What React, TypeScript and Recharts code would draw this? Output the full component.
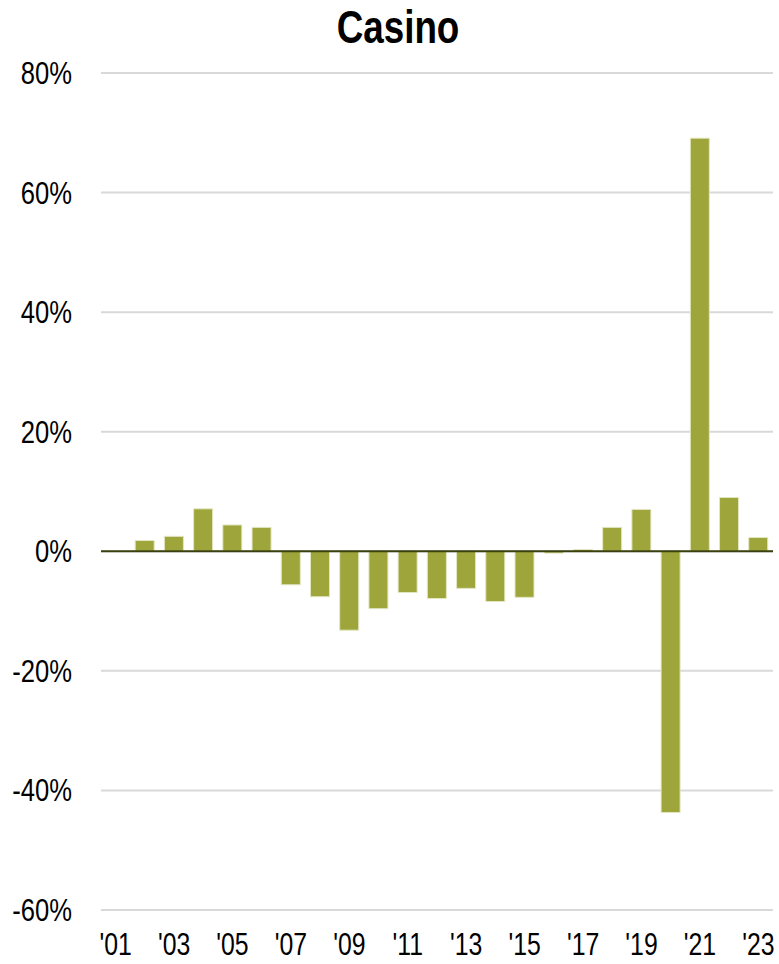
import { BarChart, Bar, XAxis, YAxis, CartesianGrid, ReferenceLine } from 'recharts'

// year-over-year change, %
const years = [
  "'01", "'02", "'03", "'04", "'05", "'06", "'07", "'08", "'09", "'10", "'11", "'12",
  "'13", "'14", "'15", "'16", "'17", "'18", "'19", "'20", "'21", "'22", "'23",
]
const change = [
  0, 1.8, 2.5, 7.1, 4.4, 4.0, -5.6, -7.6, -13.2, -9.6, -6.9, -7.9,
  -6.2, -8.4, -7.7, -0.3, 0.3, 4.0, 7.0, -43.7, 69.1, 9.0, 2.3,
]
const yTicks = [-60, -40, -20, 0, 20, 40, 60, 80]

const data = years.map((year, i) => ({ year, change: change[i] }))

// no Arial Narrow here, so squeeze Liberation Sans horizontally
const font = '"Liberation Sans", Arial, sans-serif'
const squeeze = 0.8

function NarrowTick(props: any) {
  const { x, y, payload, textAnchor, fontSize, dy, formatter } = props
  const label = formatter ? formatter(payload.value) : payload.value
  return (
    <text
      transform={`translate(${x},${y}) scale(${squeeze},1)`}
      textAnchor={textAnchor}
      fontSize={fontSize}
      fontFamily={font}
      fill="#000"
      dy={dy}
    >
      {label}
    </text>
  )
}

export default function App() {
  return (
    <div style={{ position: 'absolute', left: 0, top: 0, width: 779, height: 964, background: '#fff', fontFamily: font }}>
      <div
        style={{
          position: 'absolute',
          left: 0,
          top: 1,
          width: 796,
          textAlign: 'center',
          fontSize: 46,
          fontWeight: 'bold',
          color: '#000',
          lineHeight: '52px',
          transform: `scaleX(${squeeze})`,
        }}
      >
        Casino
      </div>
      <BarChart
        width={779}
        height={964}
        data={data}
        margin={{ top: 73, right: 6, bottom: 0, left: 0 }}
        barCategoryGap="17%"
      >
        <CartesianGrid vertical={false} stroke="#d9d9d9" strokeWidth={2} />
        <XAxis
          dataKey="year"
          interval={1}
          axisLine={false}
          tickLine={false}
          tickSize={0}
          tickMargin={2}
          height={54}
          tick={<NarrowTick fontSize={31} dy={43} />}
        />
        <YAxis
          domain={[-60, 80]}
          ticks={yTicks}
          axisLine={false}
          tickLine={false}
          tickSize={0}
          tickMargin={29}
          width={101}
          tick={<NarrowTick fontSize={32} dy={11} formatter={(v: number) => `${v}%`} />}
        />
        <Bar dataKey="change" fill="#9ea53a" stroke="#e3e6c2" strokeWidth={1} isAnimationActive={false} />
        <ReferenceLine y={0} stroke="#3b400f" strokeWidth={2} />
      </BarChart>
    </div>
  )
}
